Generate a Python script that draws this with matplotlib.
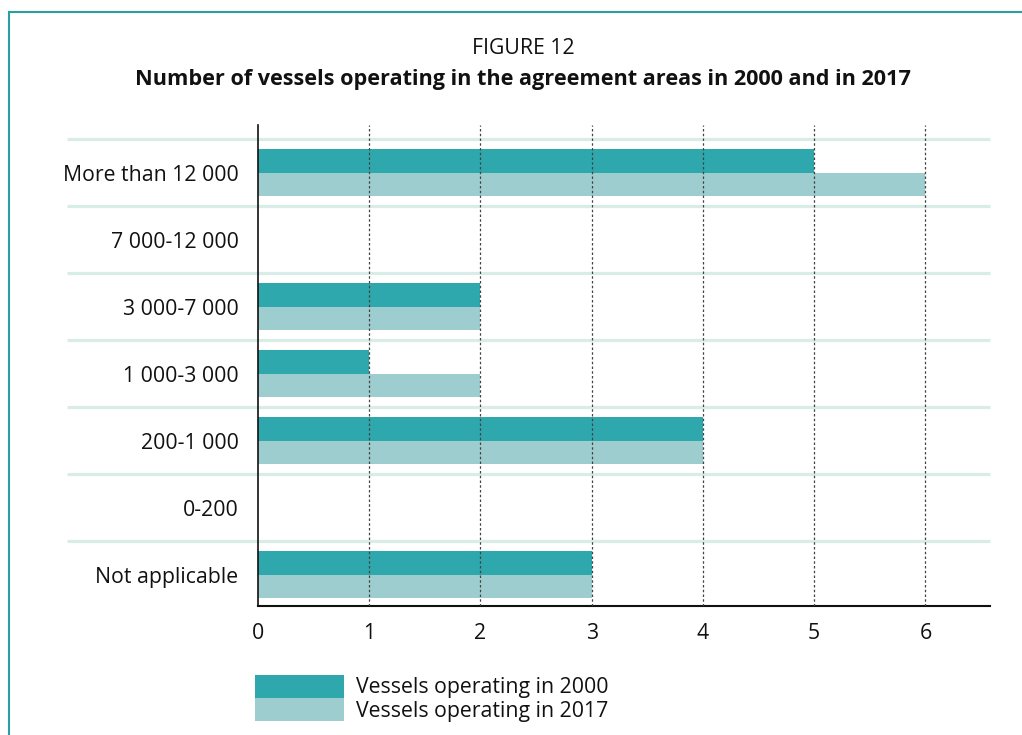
import matplotlib
matplotlib.use("Agg")
import matplotlib.pyplot as plt
from matplotlib.patches import Rectangle
from matplotlib.lines import Line2D

plt.rcParams['font.family'] = ['Open Sans', 'DejaVu Sans']

categories = ["More than 12 000", "7 000-12 000", "3 000-7 000", "1 000-3 000",
              "200-1 000", "0-200", "Not applicable"]
vessels_2000 = [5, 0, 2, 1, 4, 0, 3]
vessels_2017 = [6, 0, 2, 2, 4, 0, 3]
series_labels = ["Vessels operating in 2000", "Vessels operating in 2017"]
x_ticks = [0, 1, 2, 3, 4, 5, 6]

c2000 = "#2ea8ac"
c2017 = "#9ecdcf"
frame_col = "#2a9fa1"
sep_col = "#d9ede7"
fs = 15.3

W, H = 1022, 735
fig = plt.figure(figsize=(W / 100, H / 100), dpi=100)

def fx(px):
    return px / W

def fy(py):
    return 1 - py / H

# outer teal frame (open to the right and bottom)
fig.add_artist(Line2D([fx(9), fx(9)], [fy(12), 0], color=frame_col, lw=1.5))
fig.add_artist(Line2D([fx(9), 1], [fy(12), fy(12)], color=frame_col, lw=1.5))

ax_l, ax_r, ax_t, ax_b = 258, 990, 125, 606
ax = fig.add_axes([fx(ax_l), fy(ax_b), fx(ax_r - ax_l), (ax_b - ax_t) / H])

n = len(categories)
ypos = list(range(n))
bh = 0.345
ax.barh([y - bh / 2 for y in ypos], vessels_2000, height=bh, color=c2000, zorder=3)
ax.barh([y + bh / 2 for y in ypos], vessels_2017, height=bh, color=c2017, zorder=3)

ax.set_xlim(0, 6.58)
ax.set_ylim(6.47, -0.71)

# row separators extending into the label area
for i in range(n):
    ax.plot([-1.72, 6.58], [i - 0.5, i - 0.5], color=sep_col, lw=2.3,
            clip_on=False, zorder=1, solid_capstyle='butt')

for x in x_ticks[1:]:
    ax.axvline(x, color="#444444", lw=0.9, ls=(0, (2, 1.8)), zorder=4)

ax.set_yticks(ypos)
ax.set_yticklabels(categories, fontsize=fs, color="#111111")
ax.set_xticks(x_ticks)
ax.set_xticklabels([str(t) for t in x_ticks], fontsize=fs, color="#111111")
ax.tick_params(axis='both', length=0)
ax.tick_params(axis='y', pad=14)
ax.tick_params(axis='x', pad=12.5)

for s in ("top", "right"):
    ax.spines[s].set_visible(False)
ax.spines["left"].set_color("#111111")
ax.spines["bottom"].set_color("#111111")
ax.spines["left"].set_linewidth(1.2)
ax.spines["bottom"].set_linewidth(1.5)
ax.spines["left"].set_zorder(5)

# titles
fig.text(fx(523), fy(49), "FIGURE 12", ha="center", va="center", fontsize=fs, color="#111111")
fig.text(fx(523), fy(79), "Number of vessels operating in the agreement areas in 2000 and in 2017",
         ha="center", va="center", fontsize=15.6, fontweight="bold", color="#111111")

# legend
for (top, col, lab) in [(675, c2000, series_labels[0]), (698, c2017, series_labels[1])]:
    fig.add_artist(Rectangle((fx(255), fy(top + 23)), fx(89), 23 / H,
                             facecolor=col, edgecolor="none", transform=fig.transFigure))
    fig.text(fx(356), fy(top + 13), lab, ha="left", va="center", fontsize=fs, color="#111111")

fig.savefig("out.png", dpi=100)
